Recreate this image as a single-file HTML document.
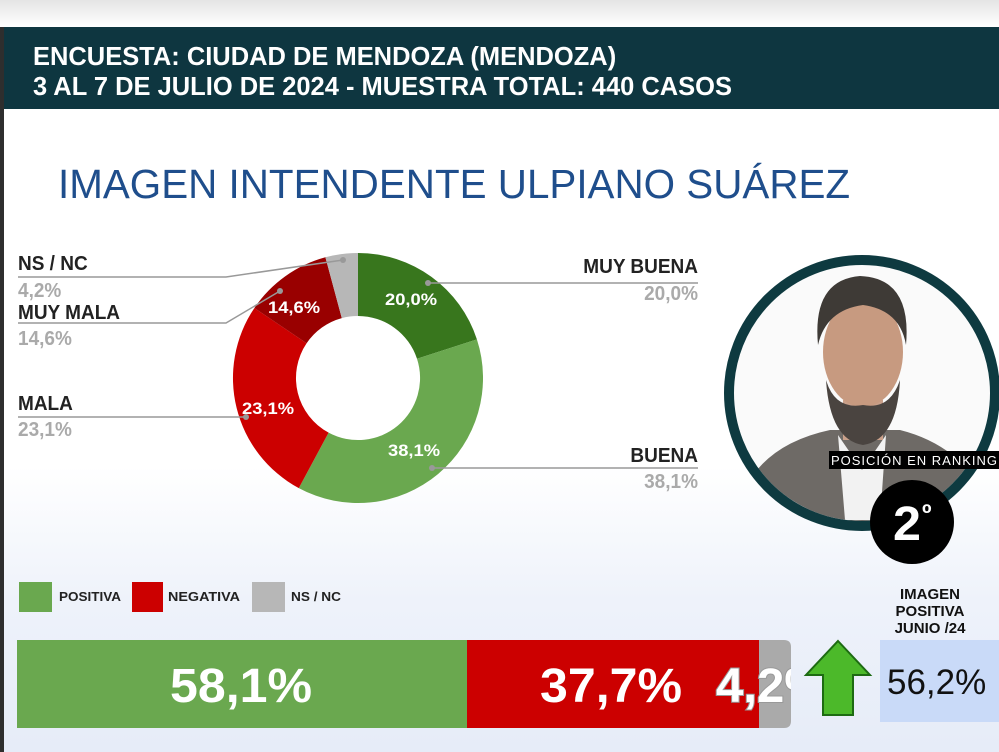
<!DOCTYPE html>
<html><head><meta charset="utf-8"><style>
body{margin:0;width:999px;height:752px;overflow:hidden;position:relative;font-family:"Liberation Sans",sans-serif;background:linear-gradient(180deg,#fff 0,#fff 62%,#eef2fa 80%,#e6ecf8 100%);}
.a{position:absolute;}
.hdr{left:4px;top:27px;width:995px;height:82px;background:#0e3640;color:#fff;font-weight:bold;font-size:26px;line-height:30px;}
.lab{font-weight:bold;font-size:20px;color:#222;transform:scaleX(0.95);white-space:nowrap}
.val{font-weight:bold;font-size:20px;color:#aaa;transform:scaleX(0.95);white-space:nowrap}
.l{transform-origin:left}.r{transform-origin:right}
</style></head><body>
<div class="a" style="left:0;top:0;width:999px;height:27px;background:linear-gradient(#e4e4e4,#fff)"></div>
<div class="a" style="left:0;top:27px;width:4px;height:725px;background:#2e2e2e"></div>
<div class="a hdr"><div style="position:absolute;left:29px;top:14px;white-space:nowrap;transform:scaleX(0.98);transform-origin:left">ENCUESTA: CIUDAD DE MENDOZA (MENDOZA)<br>3 AL 7 DE JULIO DE 2024 - MUESTRA TOTAL: 440 CASOS</div></div>
<div class="a" style="left:58px;top:161px;font-size:41px;color:#1f4e8c;white-space:nowrap;transform:scaleX(0.985);transform-origin:left">IMAGEN INTENDENTE ULPIANO SUÁREZ</div>

<svg class="a" style="left:0;top:0" width="999" height="752">
<g transform="translate(358,378)">
<path d="M0,-125 A125,125 0 0 1 118.9,-38.6 L59,-19.2 A62,62 0 0 0 0,-62Z" fill="#38761d"/>
<path d="M118.9,-38.6 A125,125 0 0 1 -59.2,110.1 L-29.4,54.6 A62,62 0 0 0 59,-19.2Z" fill="#6aa84f"/>
<path d="M-59.2,110.1 A125,125 0 0 1 -103.6,-70 L-51.4,-34.7 A62,62 0 0 0 -29.4,54.6Z" fill="#cc0000"/>
<path d="M-103.6,-70 A125,125 0 0 1 -32.6,-120.7 L-16.2,-59.9 A62,62 0 0 0 -51.4,-34.7Z" fill="#990000"/>
<path d="M-32.6,-120.7 A125,125 0 0 1 0,-125 L0,-62 A62,62 0 0 0 -16.2,-59.9Z" fill="#b7b7b7"/>
</g>
<g stroke="#999" stroke-width="1.5" fill="none">
<polyline points="428,283 698,283"/><polyline points="432,468 698,468"/>
<polyline points="18,417 246,417"/><polyline points="18,323 226,323 280,291"/><polyline points="18,277 226,277 343,260"/>
</g>
<g fill="#999"><circle cx="428" cy="283" r="3"/><circle cx="432" cy="468" r="3"/><circle cx="246" cy="417" r="3"/><circle cx="280" cy="291" r="3"/><circle cx="343" cy="260" r="3"/></g>
<g font-family="Liberation Sans" font-weight="bold" font-size="17" fill="#fff">
<text x="385" y="305" textLength="52" lengthAdjust="spacingAndGlyphs">20,0%</text><text x="388" y="456" textLength="52" lengthAdjust="spacingAndGlyphs">38,1%</text><text x="242" y="414" textLength="52" lengthAdjust="spacingAndGlyphs">23,1%</text><text x="268" y="313" textLength="52" lengthAdjust="spacingAndGlyphs">14,6%</text></g>

<defs><clipPath id="c"><circle cx="862" cy="393" r="128"/></clipPath><clipPath id="b"><rect x="17" y="640" width="774" height="88"/></clipPath></defs>
<g clip-path="url(#c)">
<rect x="720" y="250" width="290" height="290" fill="#fafafa"/>
<path d="M740,500 Q760,445 830,430 L900,430 Q960,445 990,500 L990,540 L740,540Z" fill="#6e6a66"/>
<path d="M838,435 L862,470 L886,435 L880,520 L845,520Z" fill="#f2f2f2"/>
<rect x="843" y="400" width="40" height="40" fill="#c9a08a"/>
<ellipse cx="863" cy="352" rx="40" ry="55" fill="#c79a80"/>
<path d="M826,380 Q830,440 863,445 Q897,440 900,380 Q890,410 863,405 Q835,410 826,380Z" fill="#4a4440"/>
<path d="M818,345 Q812,280 860,276 Q912,278 906,345 Q900,310 863,305 Q826,310 818,345Z" fill="#3e3a36"/>
</g>
<circle cx="862" cy="393" r="133" fill="none" stroke="#0e3a40" stroke-width="10"/>
<rect x="829" y="451" width="170" height="18" fill="#000"/>
<text x="831" y="465" font-family="Liberation Sans" font-size="13" fill="#fff" textLength="166">POSICIÓN EN RANKING</text>
<circle cx="912" cy="522" r="42" fill="#000"/>
<text x="893" y="540" font-family="Liberation Sans" font-weight="bold" font-size="48" fill="#fff" textLength="28" lengthAdjust="spacingAndGlyphs">2</text>
<text x="922" y="522" font-family="Liberation Sans" font-weight="bold" font-size="26" fill="#fff">º</text>

<rect x="19" y="582" width="33" height="30" fill="#6aa84f"/><rect x="132" y="582" width="31" height="30" fill="#cc0000"/><rect x="252" y="582" width="33" height="30" fill="#b7b7b7"/>
<g font-family="Liberation Sans" font-weight="bold" font-size="13" fill="#222"><text x="59" y="601" textLength="62" lengthAdjust="spacingAndGlyphs">POSITIVA</text><text x="168" y="601" textLength="72" lengthAdjust="spacingAndGlyphs">NEGATIVA</text><text x="291" y="601" textLength="50" lengthAdjust="spacingAndGlyphs">NS / NC</text></g>

<path d="M758,640 L784,640 Q791,640 791,647 L791,721 Q791,728 784,728 L758,728Z" fill="#aaa"/>
<rect x="17" y="640" width="450" height="88" fill="#6aa84f"/>
<rect x="467" y="640" width="292" height="88" fill="#cc0000"/>
<g font-family="Liberation Sans" font-weight="bold" font-size="48" fill="#fff" clip-path="url(#b)"><text x="170" y="702" textLength="142" lengthAdjust="spacingAndGlyphs">58,1%</text><text x="540" y="702" textLength="142" lengthAdjust="spacingAndGlyphs">37,7%</text>
<text x="716" y="702" stroke="#999" stroke-width="2" paint-order="stroke" textLength="112" lengthAdjust="spacingAndGlyphs">4,2%</text></g>
<path d="M838,641 L870,675 L853,675 L853,715 L823,715 L823,675 L806,675Z" fill="#4cb92a" stroke="#1d6b12" stroke-width="2"/>
<rect x="880" y="640" width="119" height="82" fill="#c9daf8"/>
<text x="887" y="694" font-family="Liberation Sans" font-size="35" fill="#111">56,2%</text>
<g font-family="Liberation Sans" font-weight="bold" font-size="15" fill="#111" text-anchor="middle"><text x="930" y="599">IMAGEN</text><text x="930" y="616">POSITIVA</text><text x="930" y="633">JUNIO /24</text></g>
</svg>

<div class="a lab l" style="left:18px;top:253px">NS / NC</div><div class="a val l" style="left:18px;top:280px">4,2%</div>
<div class="a lab l" style="left:18px;top:302px">MUY MALA</div><div class="a val l" style="left:18px;top:328px">14,6%</div>
<div class="a lab l" style="left:18px;top:393px">MALA</div><div class="a val l" style="left:18px;top:419px">23,1%</div>
<div class="a lab r" style="left:548px;top:256px;width:150px;text-align:right">MUY BUENA</div><div class="a val r" style="left:548px;top:283px;width:150px;text-align:right">20,0%</div>
<div class="a lab r" style="left:548px;top:445px;width:150px;text-align:right">BUENA</div><div class="a val r" style="left:548px;top:471px;width:150px;text-align:right">38,1%</div>
</body></html>
